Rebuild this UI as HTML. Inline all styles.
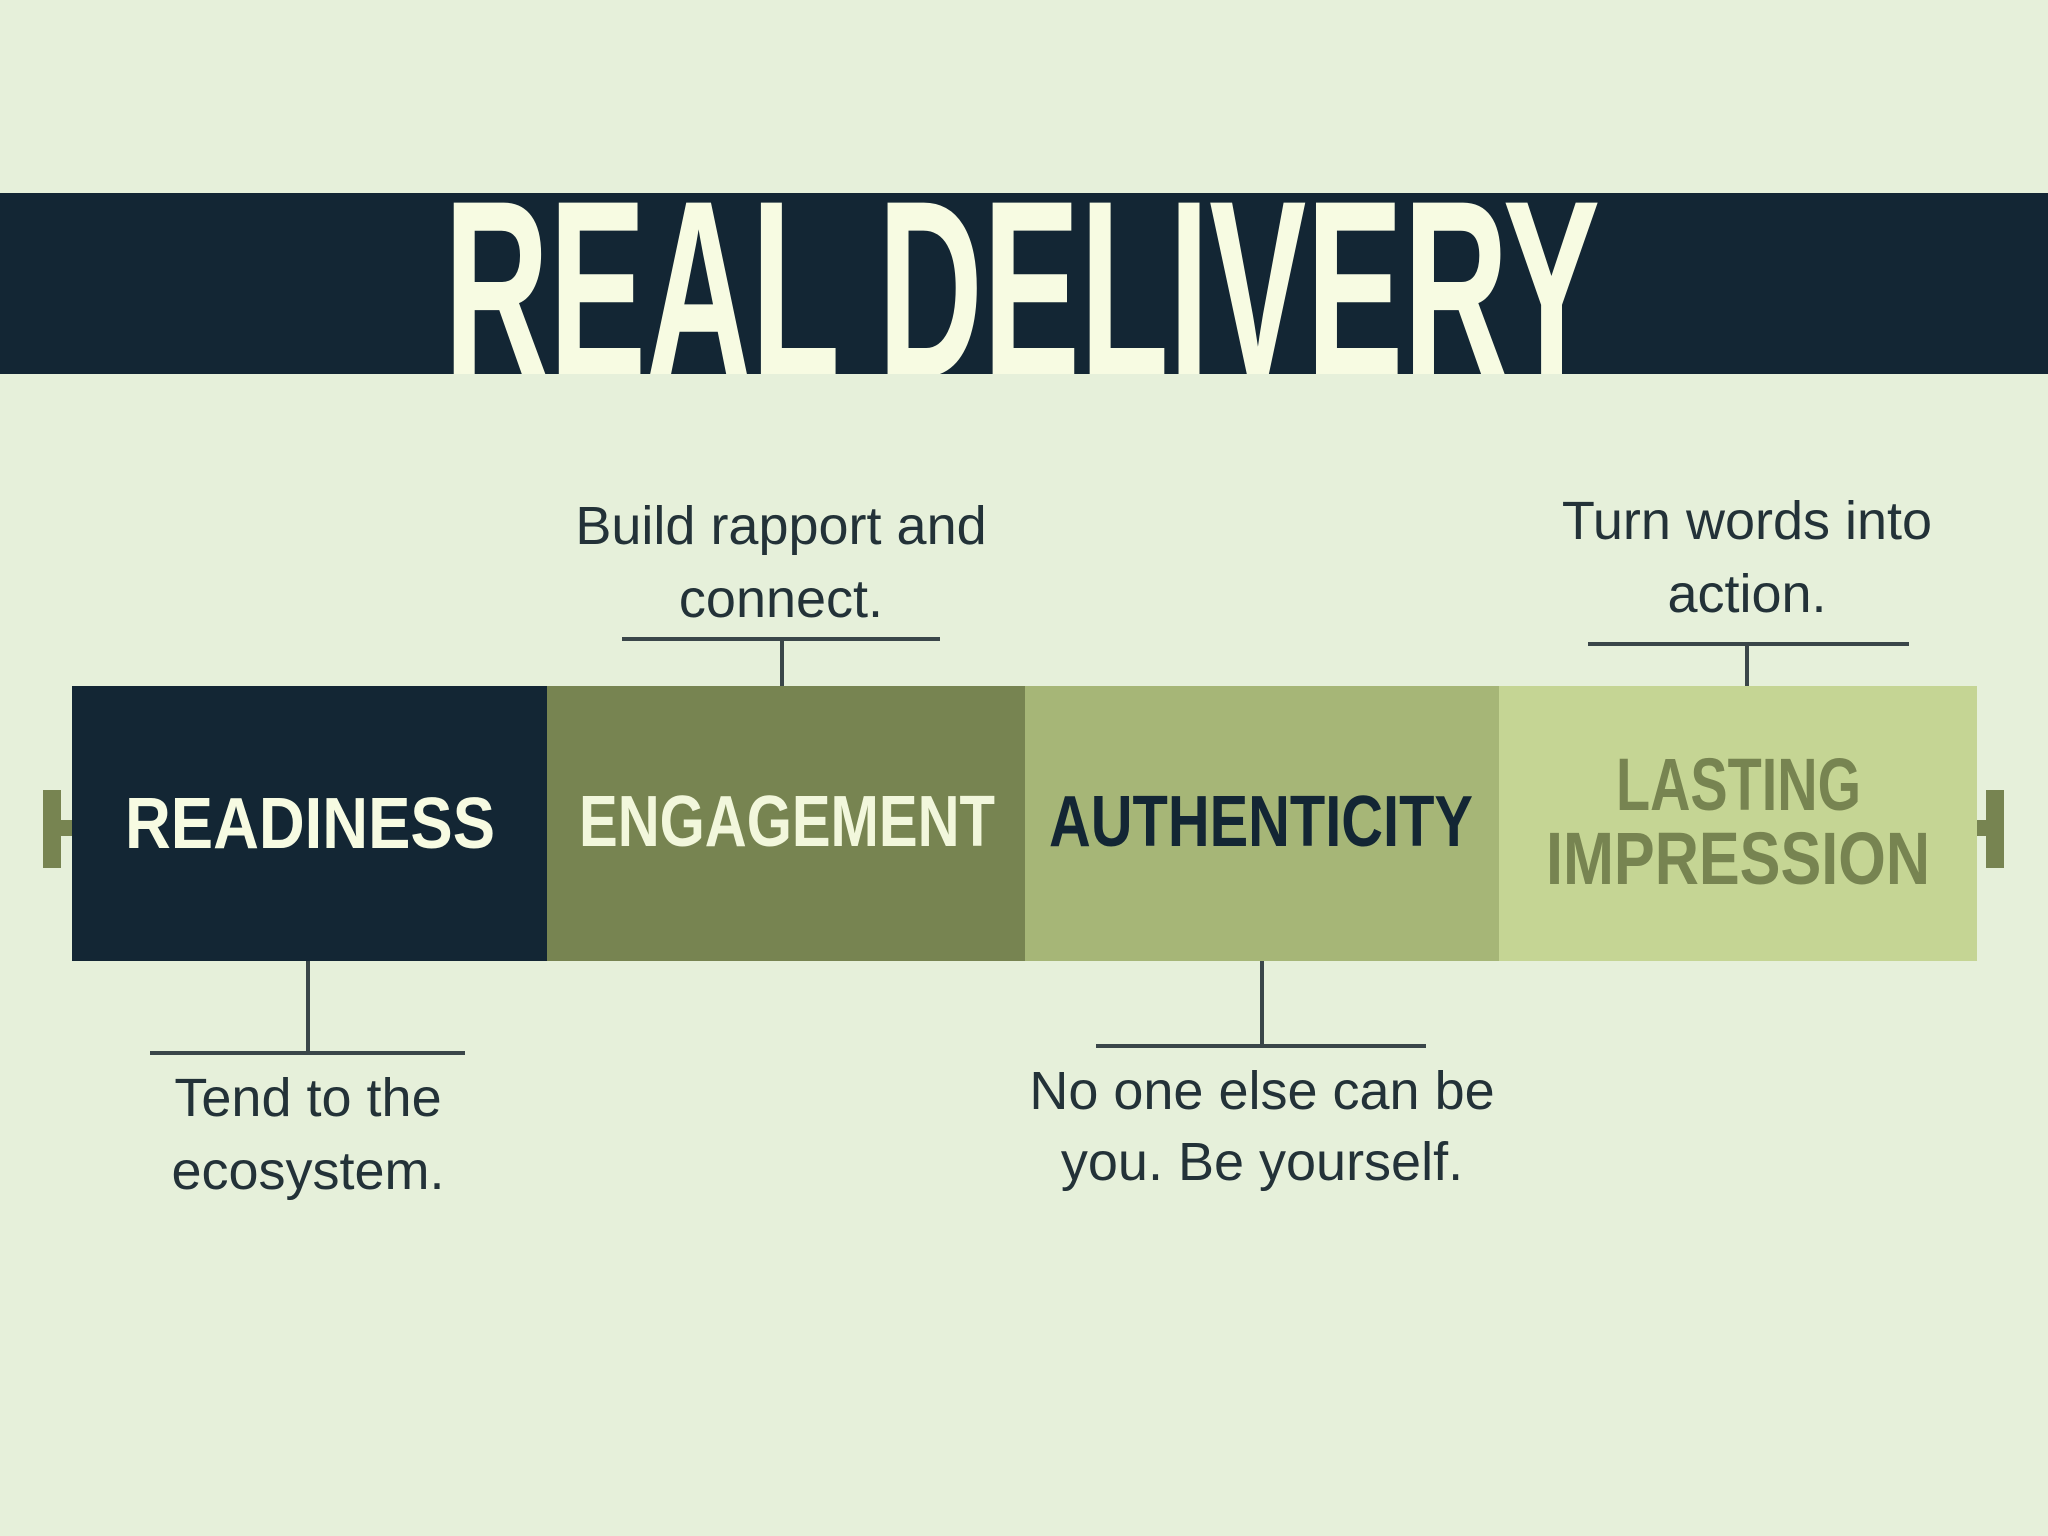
<!DOCTYPE html>
<html><head><meta charset="utf-8"><style>
html,body{margin:0;padding:0;background:#e6f0da;}
svg{display:block}
</style></head><body>
<svg width="2048" height="1536" viewBox="0 0 2048 1536" xmlns="http://www.w3.org/2000/svg">
<rect width="2048" height="1536" fill="#e6f0da"/>
<rect x="0" y="193" width="2048" height="181" fill="#132634"/>
<svg x="0" y="193" width="2048" height="181" overflow="hidden">
<text x="444" y="183" font-family="Liberation Sans, sans-serif" font-weight="bold" font-size="252" fill="#f7fbe2" textLength="1156" lengthAdjust="spacingAndGlyphs">REAL DELIVERY</text>
</svg>
<!-- end caps -->
<rect x="43" y="790" width="18" height="78" fill="#778451"/>
<rect x="55" y="820" width="20" height="16" fill="#778451"/>
<rect x="1986" y="790" width="18" height="78" fill="#778451"/>
<rect x="1972" y="820" width="20" height="16" fill="#778451"/>
<!-- bar -->
<rect x="72" y="686" width="476" height="275" fill="#132634"/>
<rect x="547" y="686" width="479" height="275" fill="#778451"/>
<rect x="1025" y="686" width="475" height="275" fill="#a6b677"/>
<rect x="1499" y="686" width="478" height="275" fill="#c5d594"/>
<g font-family="Liberation Sans, sans-serif" font-weight="bold">
<text x="125" y="848" font-size="72" fill="#f7fbe2" textLength="370" lengthAdjust="spacingAndGlyphs">READINESS</text>
<text x="579" y="846" font-size="72" fill="#f2f7dc" textLength="416" lengthAdjust="spacingAndGlyphs">ENGAGEMENT</text>
<text x="1049" y="846" font-size="72" fill="#132634" textLength="424" lengthAdjust="spacingAndGlyphs">AUTHENTICITY</text>
<text x="1616" y="810" font-size="74" fill="#778451" textLength="245" lengthAdjust="spacingAndGlyphs">LASTING</text>
<text x="1546" y="884" font-size="74" fill="#778451" textLength="384" lengthAdjust="spacingAndGlyphs">IMPRESSION</text>
</g>
<!-- connectors -->
<g stroke="#3a4649" stroke-width="4" fill="none">
<line x1="622" y1="639" x2="940" y2="639"/><line x1="782" y1="639" x2="782" y2="686"/>
<line x1="1588" y1="644" x2="1909" y2="644"/><line x1="1747" y1="644" x2="1747" y2="686"/>
<line x1="308" y1="961" x2="308" y2="1053"/><line x1="150" y1="1053" x2="465" y2="1053"/>
<line x1="1262" y1="961" x2="1262" y2="1046"/><line x1="1096" y1="1046" x2="1426" y2="1046"/>
</g>
<g font-family="Liberation Sans, sans-serif" font-size="54" fill="#233238" text-anchor="middle">
<text x="781" y="544">Build rapport and</text>
<text x="781" y="617">connect.</text>
<text x="1747" y="539">Turn words into</text>
<text x="1747" y="612">action.</text>
<text x="308" y="1116">Tend to the</text>
<text x="308" y="1189">ecosystem.</text>
<text x="1262" y="1109">No one else can be</text>
<text x="1262" y="1180">you. Be yourself.</text>
</g>
</svg>
</body></html>
